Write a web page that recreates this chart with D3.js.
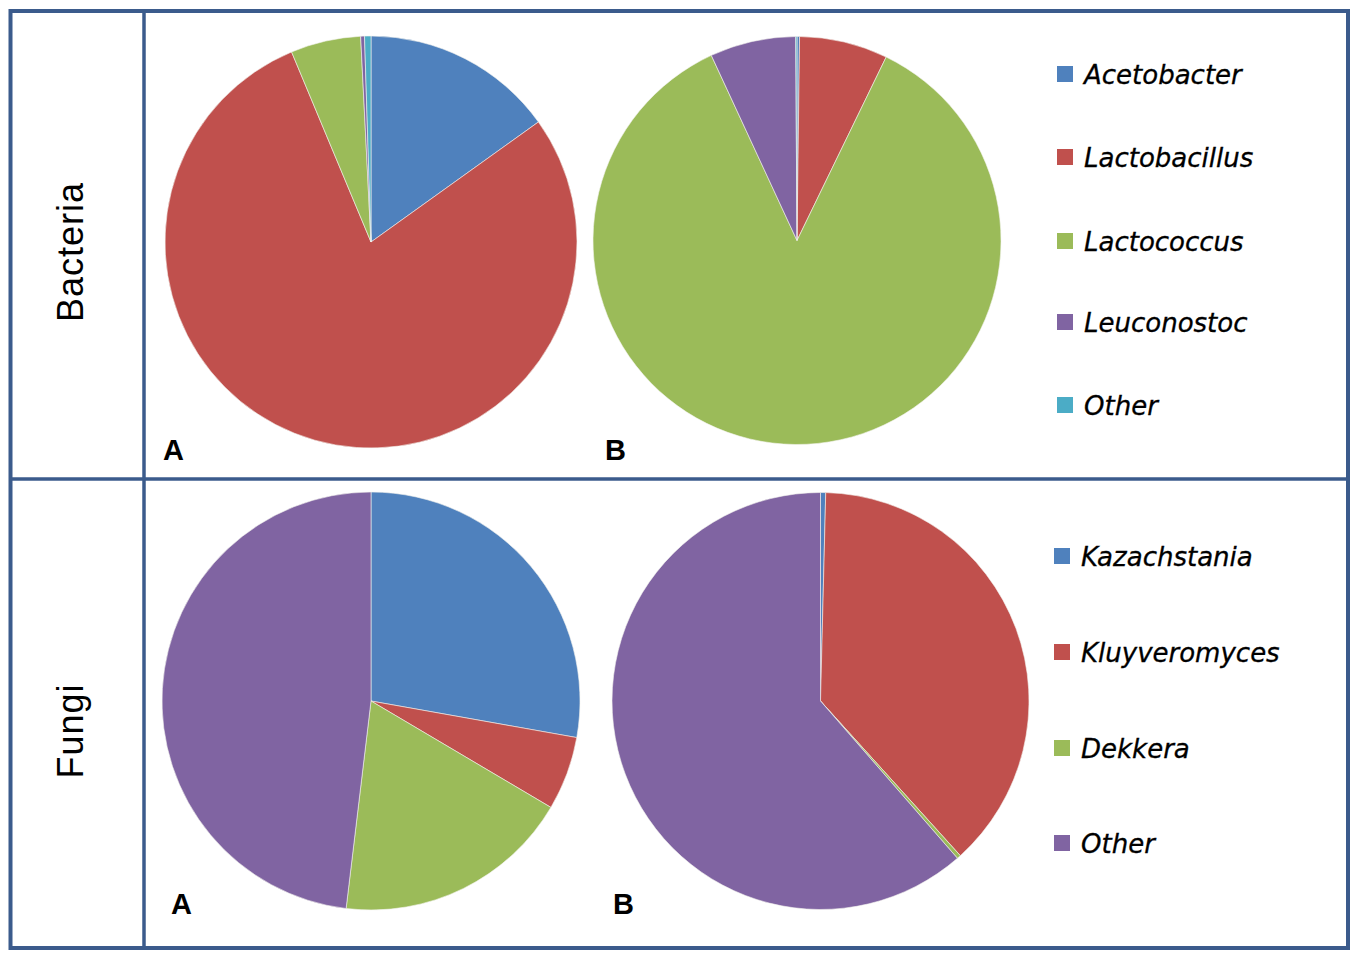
<!DOCTYPE html>
<html>
<head>
<meta charset="utf-8">
<script src="https://cdn.jsdelivr.net/npm/d3@7"></script>
<style>
  body { margin: 0; background: #fff; }
  svg { display: block; }
</style>
</head>
<body>
<svg id="chart" width="1360" height="962"></svg>
<script>
// data (percent)
var bacteriaNames = ['Acetobacter', 'Lactobacillus', 'Lactococcus', 'Leuconostoc', 'Other'];
var bacteriaA = [15.1, 78.6, 5.5, 0.3, 0.5];
var bacteriaB = [0.2, 7.0, 85.9, 6.8, 0.1];

var fungiNames = ['Kazachstania', 'Kluyveromyces', 'Dekkera', 'Other'];
var fungiA = [27.8, 5.7, 18.4, 48.1];
var fungiB = [0.4, 37.9, 0.3, 61.4];

var rowLabels = ['Bacteria', 'Fungi'];
var panelLabels = ['A', 'B'];

var colors = ['#4f81bd', '#c0504d', '#9bbb59', '#8064a2', '#4bacc6'];
var borderColor = '#3b5b8c';

var svg = d3.select('#chart');

// frame
svg.append('rect')
  .attr('x', 10.5).attr('y', 11)
  .attr('width', 1337.5).attr('height', 937)
  .style('fill', 'none')
  .style('stroke', borderColor)
  .style('stroke-width', 4);
svg.append('line')
  .attr('x1', 10).attr('x2', 1348)
  .attr('y1', 479).attr('y2', 479)
  .style('stroke', borderColor).style('stroke-width', 3.5);
svg.append('line')
  .attr('x1', 144).attr('x2', 144)
  .attr('y1', 10).attr('y2', 948)
  .style('stroke', borderColor).style('stroke-width', 3.5);

// row titles
var rowY = [252, 731];
rowLabels.forEach(function(t, i) {
  svg.append('text')
    .attr('transform', 'translate(83,' + rowY[i] + ') rotate(-90)')
    .attr('text-anchor', 'middle')
    .style('font-family', 'Liberation Sans, Arial, sans-serif')
    .style('font-size', '36px')
    .style('letter-spacing', '1px')
    .text(t);
});

var pie = d3.pie().sort(null).value(function(d) { return d; });

function drawPie(values, cx, cy, r) {
  var arc = d3.arc().innerRadius(0).outerRadius(r);
  var g = svg.append('g').attr('transform', 'translate(' + cx + ',' + cy + ')');
  g.selectAll('path')
    .data(pie(values))
    .enter()
    .append('path')
    .attr('d', arc)
    .style('fill', function(d, i) { return colors[i]; })
    .style('stroke', '#f4f4ee')
    .style('stroke-width', 0.6);
}

drawPie(bacteriaA, 371, 242, 206);
drawPie(bacteriaB, 797, 240.5, 204);
drawPie(fungiA, 371, 701, 209);
drawPie(fungiB, 820.5, 701, 208.5);

// panel letters
var letterPos = [[163, 460], [605, 460], [171, 914], [613, 914]];
letterPos.forEach(function(p, i) {
  svg.append('text')
    .attr('x', p[0]).attr('y', p[1])
    .style('font-family', 'Liberation Sans, Arial, sans-serif')
    .style('font-weight', 'bold')
    .style('font-size', '29px')
    .text(panelLabels[i % 2]);
});

function drawLegend(names, x, ys) {
  var g = svg.append('g');
  var items = g.selectAll('g')
    .data(names)
    .enter()
    .append('g')
    .attr('transform', function(d, i) { return 'translate(' + x + ',' + ys[i] + ')'; });
  items.append('rect')
    .attr('x', 0).attr('y', -8)
    .attr('width', 16).attr('height', 16)
    .style('fill', function(d, i) { return colors[i]; });
  items.append('text')
    .attr('x', 27).attr('y', 10)
    .style('font-family', 'DejaVu Sans, sans-serif')
    .style('font-style', 'italic')
    .style('font-size', '26px')
    .style('stroke', '#000')
    .style('stroke-width', 0.3)
    .text(function(d) { return d; });
}

drawLegend(bacteriaNames, 1057, [74, 157, 241, 322, 405]);
drawLegend(fungiNames, 1054, [556, 652, 748, 843]);
</script>
</body>
</html>
